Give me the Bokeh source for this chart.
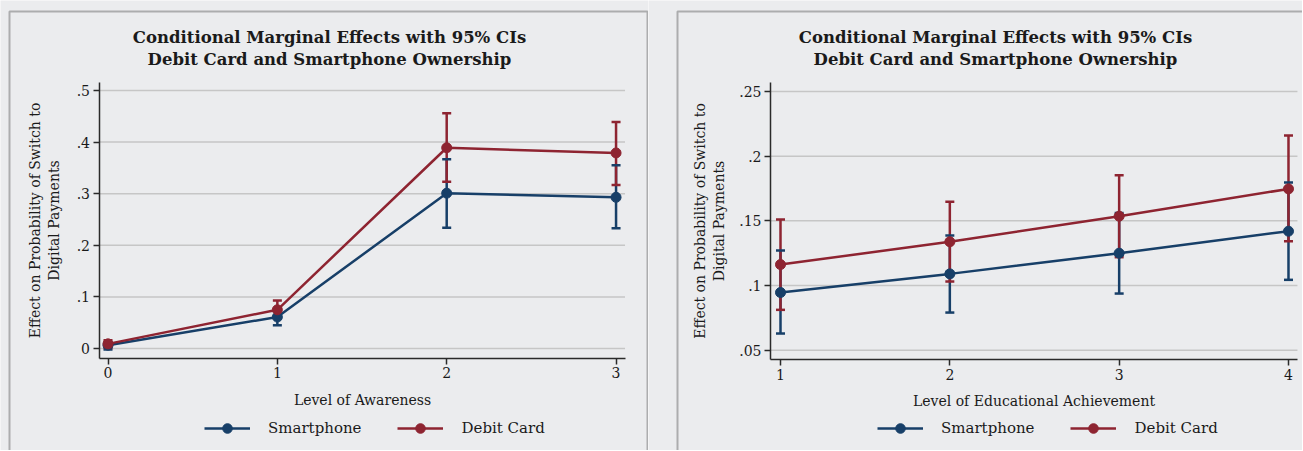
from bokeh.plotting import figure
from bokeh.models import (FixedTicker, Legend, LegendItem, Range1d, Label,
                          BoxAnnotation)
from bokeh.layouts import row
from bokeh.embed import file_html
from bokeh.resources import INLINE

# ---------------- data ----------------
awareness = [0, 1, 2, 3]
aw_smart = [0.0065, 0.061, 0.301, 0.293]
aw_smart_lo = [-0.002, 0.045, 0.234, 0.233]
aw_smart_hi = [0.011, 0.076, 0.367, 0.355]
aw_debit = [0.009, 0.075, 0.389, 0.379]
aw_debit_lo = [0.001, 0.059, 0.323, 0.317]
aw_debit_hi = [0.016, 0.093, 0.456, 0.439]

education = [1, 2, 3, 4]
ed_smart = [0.0946, 0.109, 0.125, 0.142]
ed_smart_lo = [0.0629, 0.0791, 0.0938, 0.1044]
ed_smart_hi = [0.127, 0.1387, 0.156, 0.1796]
ed_debit = [0.1162, 0.1338, 0.1536, 0.1747]
ed_debit_lo = [0.0812, 0.1031, 0.1219, 0.1343]
ed_debit_hi = [0.151, 0.1647, 0.1853, 0.216]

aw_yticks = [0, 0.1, 0.2, 0.3, 0.4, 0.5]
aw_ylabels = ["0", ".1", ".2", ".3", ".4", ".5"]
ed_yticks = [0.05, 0.1, 0.15, 0.2, 0.25]
ed_ylabels = [".05", ".1", ".15", ".2", ".25"]

title_1 = "Conditional Marginal Effects with 95% CIs"
title_2 = "Debit Card and Smartphone Ownership"
y_title = "Effect on Probability of Switch to\nDigital Payments"
series_names = ["Smartphone", "Debit Card"]

# ---------------- style / layout ----------------
BG = "#ebecee"
BLUE = "#173f68"
RED = "#8e2431"
FONT = "DejaVu Serif"
TXT = "#1a1a1a"
H = 450


def make_panel(x, s, s_lo, s_hi, d, d_lo, d_hi, yticks, ylabels, xlabel,
               width, xcal, ycal, xb, yb, title_cx, legend_left, box_lr,
               ylab_standoff):
    # pixel <-> data calibration of the panel (canvas pixels)
    def px2x(px):
        return xcal[0] + (px - xcal[1]) / xcal[2]

    def py2y(py):
        return ycal[0] + (ycal[1] - py) / ycal[2]

    p = figure(width=width, height=H, output_backend="svg", toolbar_location=None,
               x_range=Range1d(px2x(0), px2x(width)),
               y_range=Range1d(py2y(H), py2y(0)),
               min_border_left=0, min_border_right=0,
               min_border_top=0, min_border_bottom=0,
               background_fill_color=BG, border_fill_color=BG,
               outline_line_color=None, title=None)

    # grid lines (only across the plot region)
    n = len(yticks)
    p.segment(x0=[xb[0]] * n, y0=yticks, x1=[xb[1]] * n, y1=yticks,
              line_color="#c6c6c6", line_width=1.5)
    p.xgrid.visible = False
    p.ygrid.visible = False

    # axes drawn at fixed locations inside the canvas
    p.xaxis.fixed_location = yb[0]
    p.yaxis.fixed_location = xb[0]
    p.xaxis.bounds = xb
    p.yaxis.bounds = yb
    p.xaxis.ticker = FixedTicker(ticks=x)
    p.yaxis.ticker = FixedTicker(ticks=yticks)
    p.yaxis.major_label_overrides = dict(zip(yticks, ylabels))
    for ax in (p.xaxis[0], p.yaxis[0]):
        ax.axis_line_color = "#2a2a2a"
        ax.axis_line_width = 1.5
        ax.major_tick_line_color = "#2a2a2a"
        ax.major_tick_line_width = 1.5
        ax.major_tick_out = 6
        ax.major_tick_in = 0
        ax.minor_tick_line_color = None
        ax.major_label_text_font = FONT
        ax.major_label_text_font_size = "14px"
        ax.major_label_text_color = TXT
        ax.axis_label_text_font = FONT
        ax.axis_label_text_font_size = "14px"
        ax.axis_label_text_font_style = "normal"
        ax.axis_label_text_color = TXT
    p.xaxis.major_label_standoff = 3
    p.xaxis.axis_label_standoff = 10
    p.yaxis.major_label_standoff = 3
    p.yaxis.axis_label_standoff = ylab_standoff
    p.xaxis.axis_label = xlabel
    p.yaxis.axis_label = y_title

    # CI bars, then caps
    p.segment(x0=x, y0=s_lo, x1=x, y1=s_hi, line_color=BLUE, line_width=2.5)
    p.segment(x0=x, y0=d_lo, x1=x, y1=d_hi, line_color=RED, line_width=2.5)
    for lo, hi, c in ((s_lo, s_hi, BLUE), (d_lo, d_hi, RED)):
        p.scatter(x=x, y=lo, marker="dash", size=9, line_color=c, line_width=2.5)
        p.scatter(x=x, y=hi, marker="dash", size=9, line_color=c, line_width=2.5)

    # lines + markers
    ls = p.line(x=x, y=s, line_color=BLUE, line_width=2.5)
    ms = p.scatter(x=x, y=s, size=10, fill_color=BLUE, line_color=BLUE)
    ld = p.line(x=x, y=d, line_color=RED, line_width=2.5)
    md = p.scatter(x=x, y=d, size=10, fill_color=RED, line_color=RED)

    # titles
    for txt, cy in ((title_1, 37), (title_2, 59)):
        p.add_layout(Label(x=px2x(title_cx), y=py2y(cy), text=txt,
                           text_align="center", text_baseline="middle",
                           text_font=FONT, text_font_style="bold",
                           text_font_size="16.5px", text_color=TXT))

    # legend
    legend = Legend(items=[LegendItem(label=series_names[0], renderers=[ls, ms]),
                           LegendItem(label=series_names[1], renderers=[ld, md])],
                    orientation="horizontal", location=(legend_left, 10),
                    background_fill_alpha=0, border_line_alpha=0,
                    glyph_width=46, glyph_height=24, label_standoff=18,
                    spacing=36, padding=0, margin=0,
                    label_text_font=FONT, label_text_font_size="15px",
                    label_text_color=TXT)
    p.add_layout(legend)

    # panel frame box
    p.add_layout(BoxAnnotation(left=px2x(box_lr[0]), right=px2x(box_lr[1]),
                               top=py2y(11), bottom=py2y(H + 30),
                               fill_alpha=0, line_color="#1c1c1c", line_width=2))
    return p


p1 = make_panel(awareness, aw_smart, aw_smart_lo, aw_smart_hi,
                aw_debit, aw_debit_lo, aw_debit_hi, aw_yticks, aw_ylabels,
                "Level of Awareness", 648,
                (0, 107.5, 169.35), (0, 348, 516),
                (-0.053, 3.053), (-0.019, 0.5155), 329, 204, (9, 647), 12)
p2 = make_panel(education, ed_smart, ed_smart_lo, ed_smart_hi,
                ed_debit, ed_debit_lo, ed_debit_hi, ed_yticks, ed_ylabels,
                "Level of Educational Achievement", 654,
                (1, 132, 169.33), (0.05, 349.7, 1293.5),
                (0.941, 4.053), (0.0428, 0.2572), 347, 229, (29, 700), 9)

layout = row(p1, p2)
open("out.html", "w").write(file_html(layout, INLINE))
